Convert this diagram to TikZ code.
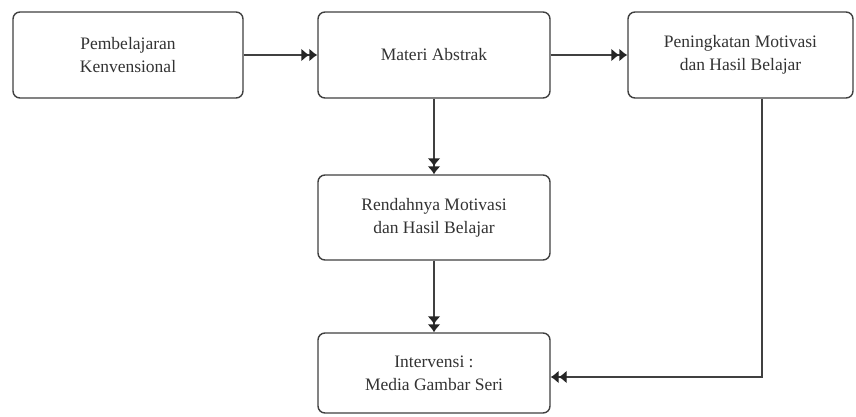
\documentclass[tikz,border=0pt]{standalone}
\usepackage{fontspec}
\setmainfont{Liberation Serif}
\newfontfamily\tms{Liberation Serif}
\usetikzlibrary{arrows.meta}
\definecolor{ln}{HTML}{404040}
\definecolor{hd}{HTML}{262626}
\definecolor{tx}{HTML}{333333}
\begin{document}
\begin{tikzpicture}[x=1pt,y=-1pt,
  box/.style={draw=ln,line width=1.4pt,rounded corners=7pt,fill=white,align=center,
    font=\tms\fontsize{17.5}{23}\selectfont,text=tx,inner sep=0pt},
  conn/.style={draw=ln,line width=1.4pt,-{Latex[length=8pt,width=13pt,color=hd]Latex[length=8pt,width=13pt,color=hd]}}]
\useasboundingbox (0,0) rectangle (856,417);
\node[box,minimum width=230pt,minimum height=86pt] (a) at (128,55) {Pembelajaran\\Kenvensional};
\node[box,minimum width=232pt,minimum height=86pt] (b) at (434,55) {Materi Abstrak};
\node[box,minimum width=225pt,minimum height=86pt] (c) at (740.5,55) {Peningkatan Motivasi\\dan Hasil Belajar};
\node[box,minimum width=232pt,minimum height=85pt] (d) at (434,217.5) {Rendahnya Motivasi\\dan Hasil Belajar};
\node[box,minimum width=232pt,minimum height=80pt] (e) at (434,373) {Intervensi :\\Media Gambar Seri};
\coordinate (k) at (762,377);
\draw[conn] (a) -- (b);
\draw[conn] (b) -- (c);
\draw[conn] (b) -- (d);
\draw[conn] (d) -- (e);
\draw[conn] (c.south -| k) -- (k) -- (e.east |- k);
\end{tikzpicture}
\end{document}
